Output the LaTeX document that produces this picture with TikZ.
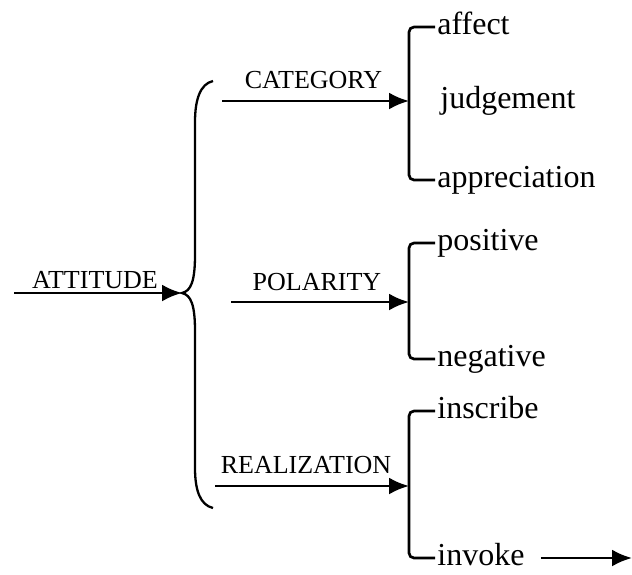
\documentclass[tikz,border=0pt]{standalone}
\usepackage{fontspec}
\setmainfont{Liberation Serif}
\usetikzlibrary{arrows.meta,positioning}

\begin{document}
\begin{tikzpicture}[
    x=1pt, y=-1pt,
    >={Latex[length=20pt,width=17pt]},
    line width=2.7pt,
    leaf/.style={
		anchor=west,
		inner sep=1pt,
		text height=15pt,
		text depth=0pt,
		font=\fontsize{32}{36}\selectfont
	},
	feature/.style={
		inner sep=0pt,
		text depth=0pt,
		font=\fontsize{26}{30}\selectfont,
		above=11pt
	},
	bracket/.style={
		rounded corners=5pt
	}
  ]
  \useasboundingbox (0,0) rectangle (632,574);

    % We start by placing the points of the brace and the brackets
  \coordinate (in) at (14,293);
  \coordinate (tip) at (182,293);
  \coordinate (catS) at (222,101);
  \coordinate (catE) at (409,101);
  \coordinate (polS) at (231,302);
  \coordinate (polE) at (409,302);
  \coordinate (reaS) at (215,486);
  \coordinate (reaE) at (409,486);
  \coordinate (out) at (632,558);

  % the leaves
  \node [leaf] (affect) at (435,27) {affect};
  \node [leaf] (judgement) at (438,101) {judgement};
  \node [leaf] (appreciation) at (435,180) {appreciation};
  \node [leaf] (positive) at (435,243) {positive};
  \node [leaf] (negative) at (435,359) {negative};
  \node [leaf] (inscribe) at (435,411) {inscribe};
  \node [leaf] (invoke) at (435,558) {invoke};

  % the brace
  \draw [line width=2.3pt] (213,81) .. controls (200,84) and (195,100) .. (195,122)
    -- (195,255) .. controls (195,281) and (191,291) .. (tip)
    .. controls (191,295) and (195,305) .. (195,331)
    -- (195,468) .. controls (195,490) and (200,505) .. (213,508);

  \draw [->] (in) -- node [feature, above=3pt, xshift=-3pt] {ATTITUDE} (tip);
  \draw [->] (catS) -- node [feature, xshift=-2pt] {CATEGORY} (catE);
  \draw [->] (polS) -- node [feature, above=10pt, xshift=-3pt] {POLARITY} (polE);
  \draw [->] (reaS) -- node [feature, xshift=-6pt] {REALIZATION} (reaE);

  \draw [bracket] (affect.west) -| (catE) |- (appreciation.west);
  \draw [bracket] (positive.west) -| (polE) |- (negative.west);
  \draw [bracket] (inscribe.west) -| (reaE) |- (invoke.west);

  \draw [->] ([xshift=14pt]invoke.east) -- (out);

\end{tikzpicture}
\end{document}
